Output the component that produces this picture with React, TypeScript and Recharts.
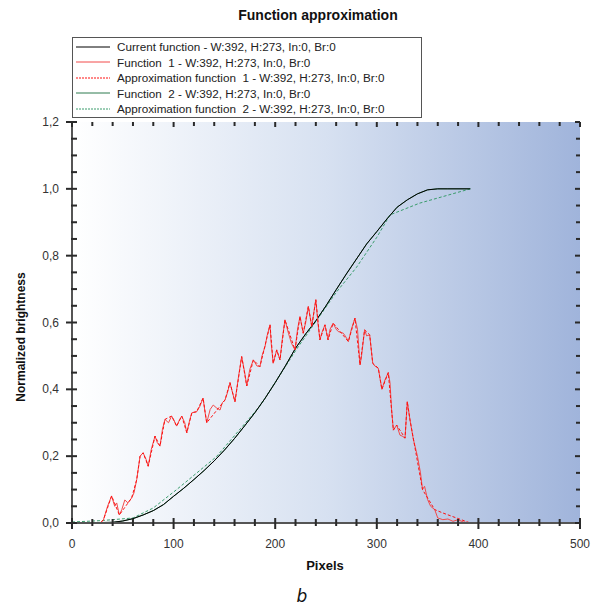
import React from 'react';
import { ComposedChart, Line, Scatter, XAxis, YAxis, Legend } from 'recharts';

// ---------- data (x = pixel, y = normalized brightness) ----------
const currentFunction: [number, number][] = [
  [0, 0], [20, 0.001], [40, 0.002], [50, 0.006], [60, 0.013], [70, 0.024], [80, 0.037], [90, 0.055],
  [100, 0.08], [110, 0.104], [120, 0.13], [130, 0.157], [140, 0.186], [150, 0.218], [160, 0.253],
  [170, 0.291], [180, 0.33], [190, 0.373], [200, 0.42], [210, 0.47], [220, 0.523], [230, 0.566],
  [240, 0.605], [250, 0.65], [260, 0.698], [270, 0.745], [280, 0.79], [290, 0.835], [300, 0.872],
  [310, 0.91], [320, 0.945], [330, 0.967], [340, 0.985], [350, 0.997], [360, 1.0], [370, 1.0], [392, 1.0],
];

const function2: [number, number][] = [
  [0, 0], [20, 0.001], [40, 0.002], [50, 0.006], [60, 0.013], [70, 0.024], [80, 0.037], [90, 0.055],
  [100, 0.08], [110, 0.104], [120, 0.13], [130, 0.157], [140, 0.186], [150, 0.218], [160, 0.253],
  [170, 0.291], [180, 0.33], [190, 0.373], [200, 0.42], [210, 0.47], [220, 0.523], [230, 0.566],
  [240, 0.605], [250, 0.65], [260, 0.698], [270, 0.745], [280, 0.79], [290, 0.835], [300, 0.872],
  [310, 0.91], [320, 0.945], [330, 0.967], [340, 0.985], [350, 0.997], [360, 1.0], [370, 1.0], [392, 1.0],
];

const approximation2: [number, number][] = [
  [0, 0.003], [28, 0.007], [60, 0.015], [80, 0.045], [103, 0.1], [142, 0.198], [185, 0.35], [221, 0.52],
  [260, 0.69], [280, 0.765], [300, 0.855], [313, 0.922], [342, 0.957], [392, 1.0],
];

const function1: [number, number][] = [
  [0, 0], [28, 0], [31, 0.01], [35, 0.05], [39, 0.081], [42, 0.05], [44, 0.06], [46.6, 0.024], [49, 0.04],
  [52, 0.069], [55, 0.06], [58.7, 0.075], [61, 0.09], [63.7, 0.13], [67, 0.2], [70, 0.21], [73, 0.19],
  [75, 0.17], [78, 0.22], [81.7, 0.26], [84, 0.24], [86.6, 0.23], [89, 0.28], [91.5, 0.31], [95, 0.3],
  [98, 0.32], [100, 0.31], [103, 0.29], [106, 0.31], [108, 0.32], [111, 0.3], [113, 0.27], [116, 0.31],
  [118, 0.33], [122.7, 0.333], [126, 0.35], [129, 0.374], [131, 0.33], [132.6, 0.3], [136, 0.34],
  [139, 0.353], [142, 0.345], [145.7, 0.338], [148, 0.36], [150.6, 0.368], [153, 0.39], [155.5, 0.42],
  [158, 0.39], [160.4, 0.363], [164, 0.44], [167, 0.498], [170, 0.45], [172, 0.41], [175, 0.46],
  [178.5, 0.488], [182, 0.47], [185, 0.468], [187, 0.5], [190, 0.528], [192, 0.56], [194.9, 0.593],
  [196, 0.54], [198, 0.478], [201.5, 0.518], [204.7, 0.488], [207, 0.55], [209.6, 0.608], [213, 0.568],
  [216, 0.538], [219.5, 0.518], [222, 0.58], [224.4, 0.618], [227.6, 0.568], [230, 0.6], [232.6, 0.648],
  [236, 0.588], [238, 0.63], [240, 0.668], [242, 0.6], [244, 0.548], [246, 0.57], [249, 0.593],
  [252, 0.548], [254, 0.58], [257, 0.598], [260, 0.58], [262, 0.573], [267, 0.568], [270, 0.555],
  [272, 0.543], [275, 0.58], [278.5, 0.613], [281, 0.58], [283.5, 0.473], [285, 0.5], [288, 0.578],
  [290, 0.56], [293, 0.563], [296, 0.478], [298, 0.47], [301.5, 0.463], [305, 0.4], [308, 0.428],
  [311.3, 0.45], [313, 0.42], [314.6, 0.338], [316.3, 0.278], [319.6, 0.293], [322.8, 0.263],
  [325, 0.26], [327.8, 0.254], [330, 0.363], [332.7, 0.308], [336, 0.25], [340, 0.2], [343, 0.15],
  [345, 0.1], [347, 0.11], [350, 0.07], [353, 0.05], [357, 0.04], [360, 0.015], [365, 0.01],
  [370, 0.012], [375, 0.005], [380, 0.01], [385, 0.003], [392, 0],
];

const approximation1: [number, number][] = [
  [0, 0], [28, 0], [31, 0.01], [39, 0.081], [46.6, 0.024], [58.7, 0.075], [63.7, 0.13], [67, 0.2],
  [70, 0.21], [75, 0.17], [81.7, 0.26], [86.6, 0.23], [91.5, 0.31], [98, 0.32], [103, 0.29], [108, 0.32],
  [113, 0.27], [118, 0.33], [122.7, 0.333], [129, 0.374], [132.6, 0.3], [150.6, 0.368], [155.5, 0.42],
  [160.4, 0.363], [167, 0.498], [172, 0.41], [178.5, 0.488], [185, 0.468], [194.9, 0.593], [198, 0.478],
  [201.5, 0.518], [204.7, 0.488], [209.6, 0.608], [219.5, 0.518], [224.4, 0.618], [227.6, 0.568],
  [232.6, 0.648], [236, 0.588], [240, 0.668], [244, 0.548], [249, 0.593], [252, 0.548], [257, 0.598],
  [272, 0.543], [278.5, 0.613], [283.5, 0.473], [288, 0.578], [293, 0.563], [296, 0.478], [301.5, 0.463],
  [305, 0.4], [311.3, 0.45], [316.3, 0.278], [319.6, 0.293], [327.8, 0.254], [330, 0.363], [332.7, 0.308],
  [345, 0.1], [357, 0.04], [365, 0.03], [392, 0],
];

const xTicks = [0, 20, 40, 60, 80, 100, 120, 140, 160, 180, 200, 220, 240, 260, 280, 300, 320, 340, 360, 380, 400, 420, 440, 460, 480, 500];
const xMajorTicks = [0, 100, 200, 300, 400, 500];
const yTicks = [0, 0.05, 0.1, 0.15, 0.2, 0.25, 0.3, 0.35, 0.4, 0.45, 0.5, 0.55, 0.6, 0.65, 0.7, 0.75, 0.8, 0.85, 0.9, 0.95, 1.0, 1.05, 1.1, 1.15, 1.2];
const yMajorTicks = [0, 0.2, 0.4, 0.6, 0.8, 1.0, 1.2];
const xDomain: [number, number] = [0, 500];
const yDomain: [number, number] = [0, 1.2];

const seriesNames = [
  'Current function - W:392, H:273, In:0, Br:0',
  'Function  1 - W:392, H:273, In:0, Br:0',
  'Approximation function  1 - W:392, H:273, In:0, Br:0',
  'Function  2 - W:392, H:273, In:0, Br:0',
  'Approximation function  2 - W:392, H:273, In:0, Br:0',
];
const seriesColors = ['#000000', '#f24a4a', '#ff1010', '#2c7a4e', '#3a9c6c'];
const seriesDashed = [false, false, true, false, true];

const toRows = (pts: [number, number][]) => pts.map(([x, y]) => ({ x, y }));

// tick-mark positions placed through the chart scales (frame edges come from the axis domains)
const bottomTickRows = xTicks.map((x) => ({ x, y: yDomain[0] }));
const topTickRows = xTicks.map((x) => ({ x, y: yDomain[1] }));
const leftTickRows = yTicks.map((y) => ({ x: xDomain[0], y }));
const rightTickRows = yTicks.map((y) => ({ x: xDomain[1], y }));

const FONT = '"Liberation Sans", Arial, sans-serif';
const isMajorY = (v: number) => yMajorTicks.some((m) => Math.abs(m - v) < 1e-6);
const fmtY = (v: number) => v.toFixed(1).replace('.', ',');
const TICK_COLOR = '#2a2a2a';
const TICK_W = 2;

// tick labels (rendered by the axes)
const BottomLabel = (props: any) => {
  const v = props.payload.value;
  if (!xMajorTicks.includes(v)) return <g />;
  return (
    <text x={Number(props.x)} y={Number(props.y) + 25} textAnchor="middle" fontSize={12} fill="#333" fontFamily={FONT}>
      {v}
    </text>
  );
};
const LeftLabel = (props: any) => {
  const v = props.payload.value;
  if (!isMajorY(v)) return <g />;
  return (
    <text x={Number(props.x) - 13} y={Number(props.y) + 4} textAnchor="end" fontSize={12} fill="#333" fontFamily={FONT}>
      {fmtY(v)}
    </text>
  );
};

// tick-mark shapes
const BottomTickMark = (p: any) => {
  const major = xMajorTicks.includes(p.payload.x);
  const cx = Number(p.cx);
  const cy = Number(p.cy);
  return <rect x={cx - TICK_W / 2} y={cy - (major ? 5 : 4)} width={TICK_W} height={major ? 11 : 7} fill={TICK_COLOR} />;
};
const TopTickMark = (p: any) => {
  const major = xMajorTicks.includes(p.payload.x);
  const cx = Number(p.cx);
  const cy = Number(p.cy);
  return <rect x={cx - TICK_W / 2} y={cy} width={TICK_W} height={major ? 5 : 4} fill={TICK_COLOR} />;
};
const LeftTickMark = (p: any) => {
  const major = isMajorY(p.payload.y);
  const cx = Number(p.cx);
  const cy = Number(p.cy);
  return <rect x={cx - (major ? 6 : 1)} y={cy - TICK_W / 2} width={major ? 11 : 6} height={TICK_W} fill={TICK_COLOR} />;
};
const RightTickMark = (p: any) => {
  const major = isMajorY(p.payload.y);
  const cx = Number(p.cx);
  const cy = Number(p.cy);
  return <rect x={cx - (major ? 5 : 4)} y={cy - TICK_W / 2} width={major ? 5 : 4} height={TICK_W} fill={TICK_COLOR} />;
};

const LegendBox = () => (
  <div
    style={{
      width: 348,
      height: 78,
      border: '1px solid #555',
      background: '#fff',
      boxSizing: 'content-box',
      paddingTop: 1,
      fontFamily: FONT,
      fontSize: 11.7,
      color: '#222',
    }}
  >
    {seriesNames.map((name, i) => (
      <div key={name} style={{ height: 15.5, display: 'flex', alignItems: 'center', whiteSpace: 'pre' }}>
        <svg width={44} height={10} style={{ flex: 'none' }}>
          <line
            x1={3}
            x2={37}
            y1={5}
            y2={5}
            stroke={seriesColors[i]}
            strokeWidth={1}
            strokeDasharray={seriesDashed[i] ? '2 1' : undefined}
          />
        </svg>
        <span>{name}</span>
      </div>
    ))}
  </div>
);

const common = { type: 'number' as const, interval: 0 as const, tickSize: 0, tickMargin: 0, tickLine: false };

export default function App() {
  return (
    <div style={{ position: 'absolute', left: 0, top: 0, width: 600, height: 606, background: '#fff', fontFamily: FONT }}>
      {/* plot-area background */}
      <div
        style={{
          position: 'absolute',
          left: 72,
          top: 122,
          width: 508,
          height: 401,
          background: 'linear-gradient(to right, #ffffff 0%, #d7e1f1 50%, #a0b4db 100%)',
        }}
      />
      <div
        style={{
          position: 'absolute',
          left: 23,
          top: 7,
          width: 590,
          textAlign: 'center',
          fontWeight: 'bold',
          fontSize: 14,
          color: '#111',
        }}
      >
        Function approximation
      </div>
      <ComposedChart width={600} height={606} margin={{ top: 122, right: 20, bottom: 23, left: 0 }}>
        <XAxis {...common} xAxisId="b" dataKey="x" domain={xDomain} ticks={xTicks} height={60}
          tick={BottomLabel} axisLine={{ stroke: '#555', strokeWidth: 2 }} />
        <XAxis {...common} xAxisId="t" orientation="top" dataKey="x" domain={xDomain} ticks={xTicks} height={0}
          tick={false} axisLine={{ stroke: '#333', strokeWidth: 1 }} />
        <YAxis {...common} yAxisId="l" dataKey="y" domain={yDomain} ticks={yTicks} width={72}
          tick={LeftLabel} axisLine={{ stroke: '#555', strokeWidth: 2 }} />
        <YAxis {...common} yAxisId="r" orientation="right" dataKey="y" domain={yDomain} ticks={yTicks} width={0}
          tick={false} axisLine={{ stroke: '#333', strokeWidth: 1 }} />
        <Line
          xAxisId="b"
          yAxisId="l"
          data={toRows(function2)}
          dataKey="y"
          type="linear"
          stroke={seriesColors[3]}
          strokeWidth={1}
          dot={false}
          isAnimationActive={false}
          name={seriesNames[3]}
        />
        <Line
          xAxisId="b"
          yAxisId="l"
          data={toRows(approximation2)}
          dataKey="y"
          type="linear"
          stroke={seriesColors[4]}
          strokeWidth={1}
          strokeDasharray="3 2"
          dot={false}
          isAnimationActive={false}
          name={seriesNames[4]}
        />
        <Line
          xAxisId="b"
          yAxisId="l"
          data={toRows(currentFunction)}
          dataKey="y"
          type="linear"
          stroke={seriesColors[0]}
          strokeWidth={1}
          dot={false}
          isAnimationActive={false}
          name={seriesNames[0]}
        />
        <Line
          xAxisId="b"
          yAxisId="l"
          data={toRows(function1)}
          dataKey="y"
          type="linear"
          stroke={seriesColors[1]}
          strokeWidth={1}
          dot={false}
          isAnimationActive={false}
          name={seriesNames[1]}
        />
        <Line
          xAxisId="b"
          yAxisId="l"
          data={toRows(approximation1)}
          dataKey="y"
          type="linear"
          stroke={seriesColors[2]}
          strokeWidth={1}
          strokeDasharray="3 2"
          dot={false}
          isAnimationActive={false}
          name={seriesNames[2]}
        />
        <Scatter xAxisId="b" yAxisId="l" data={bottomTickRows} dataKey="y" shape={BottomTickMark} isAnimationActive={false} legendType="none" />
        <Scatter xAxisId="b" yAxisId="l" data={topTickRows} dataKey="y" shape={TopTickMark} isAnimationActive={false} legendType="none" />
        <Scatter xAxisId="b" yAxisId="l" data={leftTickRows} dataKey="y" shape={LeftTickMark} isAnimationActive={false} legendType="none" />
        <Scatter xAxisId="b" yAxisId="l" data={rightTickRows} dataKey="y" shape={RightTickMark} isAnimationActive={false} legendType="none" />
        <Legend
          layout="horizontal"
          verticalAlign="middle"
          align="center"
          width={350}
          wrapperStyle={{ left: 72, top: 37, width: 350, margin: 0, padding: 0 }}
          content={() => <LegendBox />}
        />
      </ComposedChart>
      <div
        style={{
          position: 'absolute',
          left: 0,
          top: 257,
          width: 42,
          height: 160,
          display: 'flex',
          alignItems: 'center',
          justifyContent: 'center',
        }}
      >
        <div
          style={{
            transform: 'rotate(-90deg)',
            whiteSpace: 'nowrap',
            fontWeight: 'bold',
            fontSize: 12,
            color: '#111',
          }}
        >
          Normalized brightness
        </div>
      </div>
      <div
        style={{
          position: 'absolute',
          left: 275,
          top: 558,
          width: 100,
          textAlign: 'center',
          fontWeight: 'bold',
          fontSize: 13,
          color: '#111',
        }}
      >
        Pixels
      </div>
      <div
        style={{
          position: 'absolute',
          left: 282,
          top: 586,
          width: 40,
          textAlign: 'center',
          fontStyle: 'italic',
          fontSize: 17,
          color: '#111',
          fontFamily: '"DejaVu Sans", sans-serif',
        }}
      >
        b
      </div>
    </div>
  );
}
